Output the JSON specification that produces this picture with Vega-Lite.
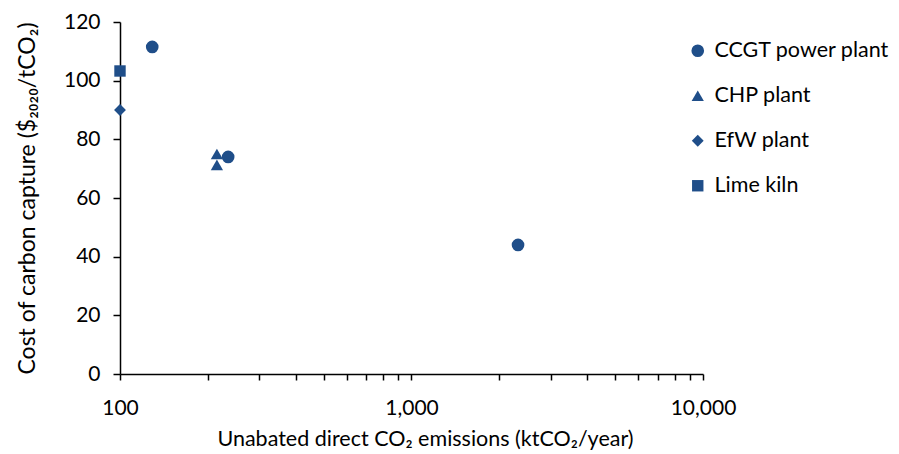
{
  "$schema": "https://vega.github.io/schema/vega-lite/v6.json",
  "width": 583,
  "height": 352,
  "autosize": {"type": "none"},
  "padding": {"left": 120, "top": 22, "right": 196, "bottom": 80},
  "background": "white",
  "config": {
    "font": "Lato",
    "view": {"stroke": null},
    "axis": {"grid": false, "domainColor": "black", "tickColor": "black", "labelColor": "#000000", "titleColor": "#000000", "labelFont": "Lato", "titleFont": "Lato", "labelFontSize": 21, "titleFontWeight": "normal", "domainWidth": 1.5, "tickWidth": 1.5},
    "legend": {"title": null, "orient": "none", "legendX": 567, "legendY": 18, "labelFontSize": 21.5, "labelFont": "Lato", "labelColor": "#000000", "labelLimit": 300, "rowPadding": 22, "symbolFillColor": "#1f4e89", "symbolStrokeColor": "#1f4e89", "labelOffset": 6}
  },
  "data": {
    "values": [
      {"type": "CCGT power plant", "emissions": 129, "cost": 111.5},
      {"type": "CCGT power plant", "emissions": 235, "cost": 74},
      {"type": "CCGT power plant", "emissions": 2320, "cost": 44},
      {"type": "CHP plant", "emissions": 215, "cost": 75},
      {"type": "CHP plant", "emissions": 215, "cost": 71.3},
      {"type": "EfW plant", "emissions": 100, "cost": 90},
      {"type": "Lime kiln", "emissions": 100, "cost": 103.3}
    ]
  },
  "mark": {"type": "point", "filled": true, "opacity": 1, "color": "#1f4e89"},
  "encoding": {
    "x": {
      "field": "emissions", "type": "quantitative",
      "scale": {"type": "log", "domain": [100, 10000], "nice": false},
      "axis": {
        "title": "Unabated direct CO₂ emissions (ktCO₂/year)",
        "titleFontSize": 21.5,
        "titleX": 305,
        "titleAlign": "center",
        "values": [100,200,300,400,500,600,700,800,900,1000,2000,3000,4000,5000,6000,7000,8000,9000,10000],
        "labelExpr": "datum.value == 100 || datum.value == 1000 || datum.value == 10000 ? format(datum.value, ',') : ''",
        "tickSize": 6, "labelPadding": 17, "titlePadding": 10, "labelFlush": false
      }
    },
    "y": {
      "field": "cost", "type": "quantitative",
      "scale": {"domain": [0, 120], "nice": false},
      "axis": {"title": "Cost of carbon capture ($₂₀₂₀/tCO₂)", "titleFontSize": 23, "values": [0,20,40,60,80,100,120], "tickSize": 7, "labelPadding": 13, "titlePadding": 24}
    },
    "shape": {
      "field": "type", "type": "nominal",
      "scale": {"domain": ["CCGT power plant", "CHP plant", "EfW plant", "Lime kiln"], "range": ["circle", "triangle-up", "diamond", "square"]},
      "legend": {}
    },
    "size": {
      "field": "type", "type": "nominal",
      "scale": {"domain": ["CCGT power plant", "CHP plant", "EfW plant", "Lime kiln"], "range": [160, 130, 90, 140]},
      "legend": {}
    }
  }
}
